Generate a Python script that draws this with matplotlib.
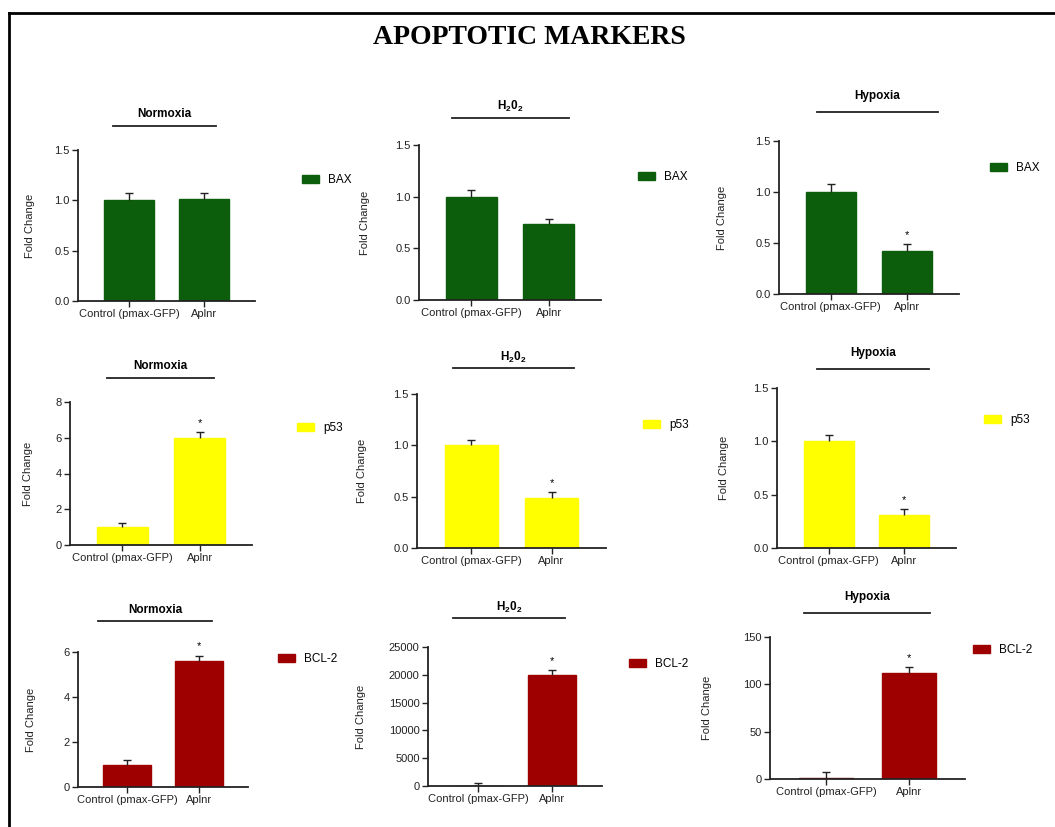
# Apoptotic markers: fold change of BAX, p53 and BCL-2 under three conditions.
import matplotlib
matplotlib.use('Agg')
import matplotlib.pyplot as plt
from matplotlib.lines import Line2D

# Data, one row per marker, one entry per condition
groups = ['Control (pmax-GFP)', 'Aplnr']
conditions = ['Normoxia', r'$\mathbf{H_20_2}$', 'Hypoxia']
markers = ['BAX', 'p53', 'BCL-2']
marker_colors = ['#0c5e0c', '#ffff00', '#9e0000']

bax_values = [[1.0, 1.01], [1.0, 0.735], [1.0, 0.42]]
bax_errors = [[0.07, 0.06], [0.065, 0.05], [0.08, 0.07]]
p53_values = [[1.0, 5.98], [1.0, 0.49], [1.0, 0.31]]
p53_errors = [[0.23, 0.33], [0.05, 0.055], [0.06, 0.055]]
bcl2_values = [[1.0, 5.62], [1.0, 20000], [1.0, 112]]
bcl2_errors = [[0.22, 0.22], [600, 900], [6, 6.5]]

stars = [[False, False, True], [True, True, True], [True, True, True]]

yticks = [
    [[0, 0.5, 1.0, 1.5]] * 3,
    [[0, 2, 4, 6, 8], [0, 0.5, 1.0, 1.5], [0, 0.5, 1.0, 1.5]],
    [[0, 2, 4, 6], [0, 5000, 10000, 15000, 20000, 25000], [0, 50, 100, 150]],
]
ytick_labels = [
    [['0.0', '0.5', '1.0', '1.5']] * 3,
    [['0', '2', '4', '6', '8'], ['0.0', '0.5', '1.0', '1.5'],
     ['0.0', '0.5', '1.0', '1.5']],
    [['0', '2', '4', '6'], ['0', '5000', '10000', '15000', '20000', '25000'],
     ['0', '50', '100', '150']],
]

# Layout in pixels of the 1055x827 picture
W, H = 1055, 827
# axes box: x left, x right, y of top tick, y of zero
boxes = [
    [(78, 255, 150, 301), (419, 601, 145, 300), (779, 959, 141, 294)],
    [(70, 252, 402, 545), (417, 606, 394, 548), (777, 956, 388, 548)],
    [(78, 248, 652, 787), (428, 602, 647, 786), (770, 965, 637, 779)],
]
# line above each panel: x start, x end, y ; and y of the condition title
title_lines = [
    [(113, 216, 126, 114), (452, 569, 118, 106), (817, 938, 112, 96)],
    [(107, 214, 378, 366), (453, 574, 368, 357), (817, 929, 369, 353)],
    [(98, 212, 621, 610), (453, 565, 618, 607), (804, 930, 613, 597)],
]
# legend square: x left, y centre
legend_pos = [
    [(302, 180), (638, 177), (990, 168)],
    [(297, 428), (643, 425), (984, 420)],
    [(278, 659), (629, 664), (973, 650)],
]
# x of the 'Fold Change' label
ylabel_x = [[35, 370, 727], [33, 367, 729], [36, 366, 712]]


def main():
    plt.rcParams['font.family'] = ['Liberation Sans', 'DejaVu Sans']
    plt.rcParams['mathtext.fontset'] = 'custom'
    plt.rcParams['mathtext.bf'] = 'Liberation Sans:bold'
    plt.rcParams['mathtext.rm'] = 'Liberation Sans'

    fig = plt.figure(figsize=(W / 100, H / 100), dpi=100)

    all_values = [bax_values, p53_values, bcl2_values]
    all_errors = [bax_errors, p53_errors, bcl2_errors]

    for r in range(3):
        for c in range(3):
            x0, x1, ytop, ybot = boxes[r][c]
            ax = fig.add_axes([x0 / W, 1 - ybot / H, (x1 - x0) / W,
                               (ybot - ytop) / H])
            vals = all_values[r][c]
            errs = all_errors[r][c]
            xs = range(len(groups))

            bars = ax.bar(xs, vals, 0.66, color=marker_colors[r],
                          edgecolor=marker_colors[r], label=markers[r],
                          zorder=2)
            eb = ax.errorbar(xs, vals, yerr=[[0] * len(errs), errs],
                             fmt='none', ecolor='#222222', elinewidth=1,
                             capsize=3, capthick=1, zorder=3)
            # only the upper cap is drawn
            eb[1][0].set_visible(False)

            if stars[r][c]:
                ax.annotate('*', (1, vals[1] + errs[1]),
                            xytext=(0, 3), textcoords='offset points',
                            ha='center', va='bottom', fontsize=8)

            ax.set_xlim(-0.68, 1.68)
            ax.set_ylim(0, yticks[r][c][-1])
            ax.set_xticks(list(xs))
            ax.set_xticklabels(groups, fontsize=8)
            ax.set_yticks(yticks[r][c])
            ax.set_yticklabels(ytick_labels[r][c], fontsize=8)
            ax.tick_params(length=4, width=1, pad=2, color='#222222',
                           labelcolor='#222222')

            for side in ['top', 'right']:
                ax.spines[side].set_visible(False)
            for side in ['left', 'bottom']:
                ax.spines[side].set_linewidth(1.3)
                ax.spines[side].set_color('#222222')

            ax.set_ylabel('Fold Change', fontsize=8, color='#222222')
            ax.yaxis.set_label_coords((ylabel_x[r][c] - x0) / (x1 - x0), 0.5)

            # condition title with a line underneath
            lx0, lx1, ly, ty = title_lines[r][c]
            fig.text((lx0 + lx1) / 2 / W, 1 - ty / H, conditions[c],
                     ha='center', va='center', fontsize=8.5,
                     fontweight='bold')
            fig.add_artist(Line2D([lx0 / W, lx1 / W], [1 - ly / H, 1 - ly / H],
                                  color='#222222', linewidth=1.3))

            # legend
            gx, gy = legend_pos[r][c]
            ax.legend(handles=[bars], loc='center left',
                      bbox_to_anchor=(gx / W, 1 - gy / H),
                      bbox_transform=fig.transFigure, frameon=False,
                      fontsize=8.5, borderpad=0, borderaxespad=0,
                      handlelength=1.4, handleheight=0.7, handletextpad=0.8)

    # main title
    fig.text(529 / W, 1 - 38 / H, 'APOPTOTIC MARKERS', ha='center',
             va='center', fontsize=20, fontweight='bold',
             family='Liberation Serif')

    # frame lines at left and top
    fig.add_artist(Line2D([9 / W, 9 / W], [0, 1 - 13 / H], color='black',
                          linewidth=2))
    fig.add_artist(Line2D([9 / W, 1], [1 - 13 / H, 1 - 13 / H],
                          color='black', linewidth=2))

    fig.savefig('out.png', dpi=100)


if __name__ == '__main__':
    main()
